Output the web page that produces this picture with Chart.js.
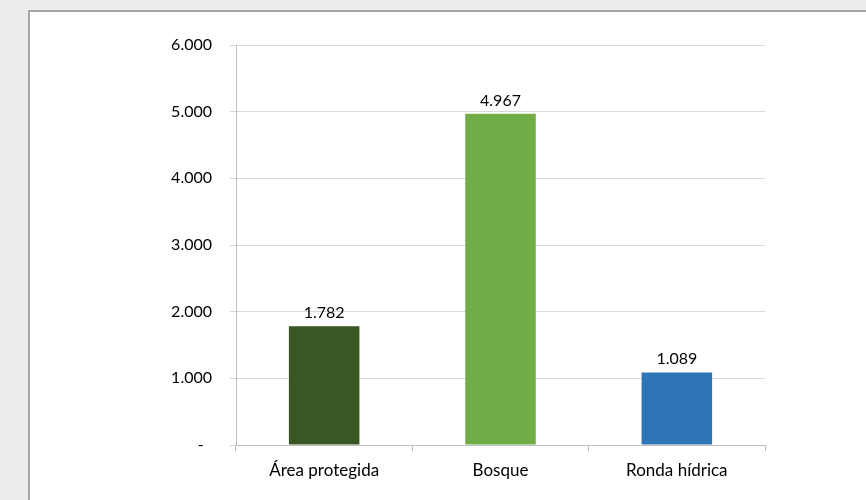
<!DOCTYPE html>
<html lang="es">
<head>
<meta charset="utf-8">
<title>Hectáreas por tipo de cobertura</title>
<script src="https://cdn.jsdelivr.net/npm/chart.js@4.4.1/dist/chart.umd.min.js"></script>
<style>
    html, body { margin: 0; padding: 0; }
    body { width: 866px; height: 500px; background: #ebeceb; position: relative; overflow: hidden; }
    #marco {
        position: absolute; left: 28px; top: 10px; right: 0; bottom: 0;
        background: #fff; border-left: 2px solid #a6a6a6; border-top: 2px solid #a6a6a6;
    }
    #grafico { position: absolute; left: 0; top: 0; }
</style>
</head>
<body>
<div id="marco"></div>
<canvas id="grafico" width="866" height="500"></canvas>
<script>
// Datos del gráfico
const categorias = ['Área protegida', 'Bosque', 'Ronda hídrica'];
const valores = [1782, 4967, 1089];
const colores = ['#385723', '#70ad47', '#2e75b6'];
const ticksY = [0, 1000, 2000, 3000, 4000, 5000, 6000];

const FUENTE = 'Lato, "Open Sans", sans-serif';

/**
 * Formato con punto de miles (6.000)
 */
function formatoMiles(v) {
    return String(Math.round(v)).replace(/\B(?=(\d{3})+(?!\d))/g, '.');
}

// Etiquetas de valor encima de cada barra
const etiquetasBarras = {
    id: 'etiquetasBarras',
    afterDatasetsDraw(chart) {
        const ctx = chart.ctx;
        const meta = chart.getDatasetMeta(0);
        ctx.save();
        ctx.font = '16px ' + FUENTE;
        ctx.fillStyle = '#000';
        ctx.textAlign = 'center';
        ctx.textBaseline = 'alphabetic';
        meta.data.forEach((barra, i) => {
            ctx.fillText(formatoMiles(valores[i]), barra.x, barra.y - 8);
        });
        ctx.restore();
    }
};

const ctx = document.getElementById('grafico').getContext('2d');
const grafico = new Chart(ctx, {
    type: 'bar',
    data: {
        labels: categorias,
        datasets: [{
            data: valores,
            backgroundColor: colores,
            borderWidth: 0,
            categoryPercentage: 1,
            barPercentage: 0.4
        }]
    },
    options: {
        responsive: false,
        animation: false,
        layout: { padding: { top: 45, right: 101, left: 0, bottom: 0 } },
        plugins: {
            legend: { display: false },
            tooltip: { enabled: false }
        },
        scales: {
            x: {
                afterFit(scale) { scale.height = 55; },
                grid: {
                    offset: true,
                    drawOnChartArea: false,
                    tickLength: 6,
                    tickColor: '#bfbfbf'
                },
                border: { color: '#bfbfbf' },
                ticks: {
                    color: '#000',
                    padding: 9,
                    font: { family: FUENTE, size: 17 }
                }
            },
            y: {
                min: 0,
                max: 6000,
                afterFit(scale) { scale.width = 236; },
                afterBuildTicks(scale) {
                    scale.ticks = ticksY.map(v => ({ value: v }));
                },
                grid: {
                    color: '#d9d9d9',
                    tickLength: 6,
                    tickColor: '#d9d9d9'
                },
                border: { color: '#bfbfbf' },
                ticks: {
                    color: '#000',
                    padding: 18,
                    font: { family: FUENTE, size: 16 },
                    // el cero se muestra como guion, con sangría a la derecha
                    callback: v => v === 0 ? '-  ' : formatoMiles(v)
                }
            }
        }
    },
    plugins: [etiquetasBarras]
});
</script>
</body>
</html>
